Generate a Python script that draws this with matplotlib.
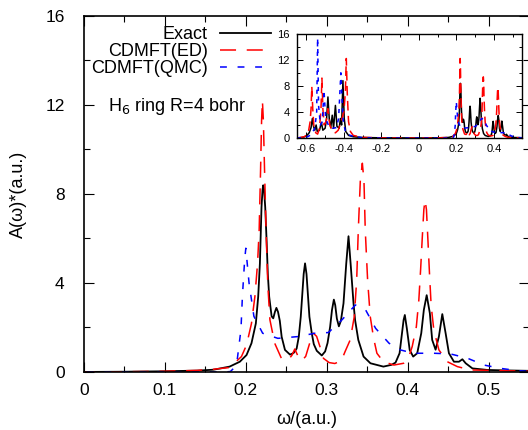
import matplotlib
matplotlib.use("Agg")
import matplotlib.pyplot as plt
from matplotlib.ticker import MultipleLocator

plt.rcParams['font.family'] = ['Liberation Sans', 'DejaVu Sans']

# values (omega in a.u., A(omega) in a.u.)
# positive frequency side (main panel)
exact_w = [0.000, 0.050, 0.100, 0.140, 0.160, 0.180, 0.1926, 0.2009, 0.2070, 0.2124,
           0.2153, 0.2174, 0.2194, 0.2207, 0.2215, 0.2225, 0.2240, 0.2258, 0.2272, 0.2289,
           0.2319, 0.2339, 0.2360, 0.2378, 0.2398, 0.2420, 0.2443, 0.2484, 0.2546, 0.2590,
           0.2628, 0.2655, 0.2679, 0.2700, 0.2715, 0.2732, 0.2750, 0.2765, 0.2786, 0.2815,
           0.2840, 0.2877, 0.2939, 0.2980, 0.3010, 0.3042, 0.3065, 0.3088, 0.3105, 0.3125,
           0.3150, 0.3175, 0.3207, 0.3241, 0.3269, 0.3295, 0.3331, 0.3350, 0.3390, 0.3455,
           0.3540, 0.3700, 0.3800, 0.3850, 0.3900, 0.3930, 0.3950, 0.3965, 0.3990, 0.4025,
           0.4068, 0.4118, 0.4168, 0.4200, 0.4235, 0.4274, 0.4303, 0.4345, 0.4386, 0.4428,
           0.4469, 0.4510, 0.4572, 0.4634, 0.4676, 0.4717, 0.4800, 0.4985, 0.5200, 0.5500]
exact_a = [0.00, 0.01, 0.03, 0.06, 0.10, 0.24, 0.46, 0.76, 1.29, 2.18,
           3.38, 4.87, 7.41, 8.20, 8.39, 8.20, 7.40, 5.80, 4.40, 3.38,
           2.50, 2.41, 2.70, 2.88, 2.70, 2.30, 1.58, 0.99, 0.78, 0.85,
           1.05, 1.59, 2.48, 3.60, 4.40, 4.88, 4.40, 3.60, 2.48, 1.74,
           1.25, 0.95, 0.74, 0.92, 1.30, 2.03, 2.79, 3.25, 3.00, 2.40,
           2.05, 2.30, 3.08, 4.87, 6.10, 4.87, 3.08, 2.34, 1.44, 0.69,
           0.39, 0.24, 0.32, 0.42, 0.84, 1.74, 2.34, 2.56, 1.95, 0.99,
           0.69, 0.84, 1.74, 2.79, 3.45, 2.64, 1.44, 1.00, 1.59, 2.60,
           1.74, 0.84, 0.46, 0.46, 0.57, 0.39, 0.16, 0.09, 0.07, 0.05]

ed_w = [0.000, 0.050, 0.100, 0.140, 0.160, 0.180, 0.1946, 0.2009, 0.2070, 0.2112,
        0.2145, 0.2165, 0.2182, 0.2195, 0.2205, 0.2217, 0.2232, 0.2250, 0.2272, 0.2298,
        0.2357, 0.2440, 0.2524, 0.2570, 0.2605, 0.2640, 0.2690, 0.2740, 0.2790, 0.2835,
        0.2875, 0.2916, 0.2960, 0.3030, 0.3100, 0.3180, 0.3226, 0.3290, 0.3340, 0.3370,
        0.3390, 0.3415, 0.3440, 0.3460, 0.3476, 0.3505, 0.3538, 0.3580, 0.3620, 0.3700,
        0.3830, 0.3950, 0.4010, 0.4056, 0.4107, 0.4138, 0.4160, 0.4180, 0.4200, 0.4215,
        0.4232, 0.4252, 0.4270, 0.4290, 0.4323, 0.4386, 0.4490, 0.4614, 0.4777, 0.5150,
        0.5500]
ed_a = [0.00, 0.01, 0.03, 0.07, 0.12, 0.20, 0.69, 1.21, 2.18, 3.38,
        4.87, 6.37, 9.00, 11.30, 12.20, 11.30, 9.00, 6.40, 3.90, 2.34,
        1.29, 0.61, 0.54, 0.75, 1.03, 0.75, 0.50, 0.70, 1.30, 1.74,
        1.60, 1.14, 0.61, 0.42, 0.38, 0.50, 0.91, 1.44, 2.48, 4.13,
        6.37, 8.60, 9.38, 8.60, 6.37, 4.13, 2.48, 1.50, 0.84, 0.46,
        0.31, 0.39, 0.63, 1.14, 2.03, 3.23, 4.60, 6.00, 7.30, 7.73,
        7.30, 5.80, 4.40, 3.00, 1.89, 0.99, 0.46, 0.24, 0.09, 0.06,
        0.03]

qmc_w = [0.000, 0.100, 0.175, 0.1810, 0.1860, 0.1896, 0.1940, 0.1958, 0.1985, 0.2000,
         0.2040, 0.2100, 0.2208, 0.2396, 0.2646, 0.2854, 0.3020, 0.3188, 0.3354, 0.3480,
         0.3604, 0.3770, 0.3910, 0.4073, 0.4323, 0.4529, 0.4737, 0.4943, 0.5150, 0.5358,
         0.5500]
qmc_a = [0.00, 0.00, 0.00, 0.02, 0.20, 0.61, 1.90, 3.40, 5.00, 5.56,
         4.00, 2.50, 1.74, 1.51, 1.59, 1.74, 1.77, 2.34, 3.01, 2.79,
         1.96, 1.29, 0.99, 0.84, 0.84, 0.81, 0.62, 0.31, 0.16, 0.06,
         0.02]

# negative frequency side (only visible in the inset)
exact_w_neg = [-0.650, -0.620, -0.600, -0.585, -0.575, -0.568, -0.562, -0.555, -0.548, -0.542,
               -0.530, -0.520, -0.512, -0.500, -0.492, -0.485, -0.478, -0.470, -0.462, -0.455,
               -0.445, -0.437, -0.425, -0.418, -0.412, -0.405, -0.398, -0.390, -0.375, -0.350,
               -0.300, -0.200, -0.100]
exact_a_neg = [0.0, 0.1, 0.3, 0.8, 1.6, 3.0, 1.8, 1.2, 2.0, 1.0,
               1.2, 2.4, 1.2, 1.5, 3.0, 6.3, 3.0, 1.6, 3.5, 1.5,
               5.0, 1.8, 1.5, 3.0, 2.0, 8.8, 3.0, 1.0, 0.4, 0.2,
               0.08, 0.03, 0.02]

ed_w_neg = [-0.650, -0.610, -0.590, -0.580, -0.575, -0.571, -0.566, -0.560, -0.550, -0.540,
            -0.530, -0.522, -0.517, -0.512, -0.505, -0.495, -0.485, -0.475, -0.460, -0.445,
            -0.430, -0.415, -0.400, -0.392, -0.387, -0.382, -0.375, -0.365, -0.350, -0.300,
            -0.200, -0.100]
ed_a_neg = [0.0, 0.2, 0.8, 2.5, 4.5, 7.9, 4.5, 1.8, 0.8, 0.6,
            1.5, 4.5, 9.2, 4.5, 2.0, 2.5, 4.5, 2.0, 1.0, 0.8,
            1.2, 2.5, 4.0, 7.0, 12.2, 7.0, 2.5, 1.0, 0.4, 0.1,
            0.03, 0.01]

qmc_w_neg = [-0.650, -0.600, -0.575, -0.555, -0.545, -0.540, -0.535, -0.525, -0.515, -0.506,
             -0.497, -0.480, -0.460, -0.440, -0.428, -0.416, -0.405, -0.392, -0.375, -0.350,
             -0.300, -0.200, -0.100]
qmc_a_neg = [0.0, 0.1, 0.5, 1.5, 4.0, 15.3, 5.0, 2.0, 2.5, 7.3,
             3.0, 1.8, 1.5, 1.6, 3.0, 10.0, 3.0, 1.0, 0.5, 0.25,
             0.05, 0.0, 0.0]

labels = ['Exact', 'CDMFT(ED)', 'CDMFT(QMC)']
colors = ['black', '#ff0000', '#0000ff']
dash_styles = [None, (10.5, 7), (4.5, 7)]

fig = plt.figure(figsize=(5.28, 4.30), dpi=100)
ax = fig.add_axes([0.159, 0.135, 0.843, 0.828])

curves = [(exact_w_neg + exact_w, exact_a_neg + exact_a),
          (ed_w_neg + ed_w, ed_a_neg + ed_a),
          (qmc_w_neg + qmc_w, qmc_a_neg + qmc_a)]

for (w, a), lab, col, ds in zip(curves, labels, colors, dash_styles):
    line, = ax.plot(w, a, color=col, lw=1.3, label=lab)
    if ds is not None:
        line.set_dashes(ds)
        line.set_linewidth(1.1)

ax.set_xlim(0, 0.55)
ax.set_ylim(0, 16)
ax.xaxis.set_major_locator(MultipleLocator(0.1))
ax.xaxis.set_minor_locator(MultipleLocator(0.05))
ax.yaxis.set_major_locator(MultipleLocator(4))
ax.yaxis.set_minor_locator(MultipleLocator(2))
ax.tick_params(which='both', direction='in', top=True, right=True, labelsize=12.5)
ax.tick_params(which='major', length=7, width=0.8)
ax.tick_params(which='minor', length=4, width=0.8)
ax.tick_params(axis='y', pad=14)
ax.tick_params(axis='x', pad=8)
ax.xaxis.set_major_formatter(plt.FuncFormatter(lambda v, p: '0' if abs(v) < 1e-9 else '%g' % v))
ax.set_xlabel('ω/(a.u.)', fontsize=13, labelpad=9)
ax.set_ylabel('A(ω)*(a.u.)', fontsize=13, labelpad=13)
for s in ax.spines.values():
    s.set_linewidth(1.2)

leg = ax.legend(loc='upper right', bbox_to_anchor=(0.42, 0.971), frameon=False,
                markerfirst=False, fontsize=13, handlelength=2.8, handletextpad=0.7,
                labelspacing=0.0, borderpad=0, borderaxespad=0)

ax.text(0.054, 0.745, 'H$_6$ ring R=4 bohr', transform=ax.transAxes, fontsize=13,
        va='center', ha='left')

# inset: full spectrum
ins = fig.add_axes([0.5625, 0.679, 0.426, 0.2426])
for (w, a), col, ds in zip(curves, colors, dash_styles):
    line, = ins.plot(w, a, color=col, lw=1.1)
    if ds is not None:
        line.set_dashes((ds[0] * 0.6, ds[1] * 0.5))
ins.set_xlim(-0.65, 0.55)
ins.set_ylim(0, 16)
ins.xaxis.set_major_locator(MultipleLocator(0.2))
ins.xaxis.set_minor_locator(MultipleLocator(0.1))
ins.yaxis.set_major_locator(MultipleLocator(4))
ins.yaxis.set_minor_locator(MultipleLocator(2))
ins.xaxis.set_major_formatter(plt.FuncFormatter(lambda v, p: '0' if abs(v) < 1e-9 else '%g' % v))
ins.tick_params(which='both', direction='in', top=True, right=True, labelsize=8, width=0.7)
ins.tick_params(which='major', length=4)
ins.tick_params(which='minor', length=2)
ins.tick_params(axis='y', pad=5)
ins.tick_params(axis='x', pad=4)
for s in ins.spines.values():
    s.set_linewidth(1.0)

fig.savefig('out.png', dpi=100)
